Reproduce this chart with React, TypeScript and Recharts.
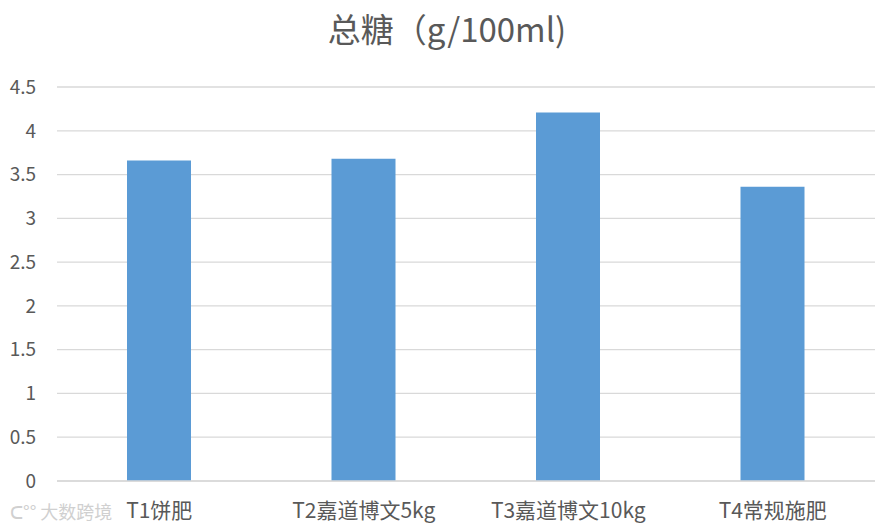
import React from "react";
import { BarChart, Bar, XAxis, YAxis, CartesianGrid } from "recharts";

const categories = ["T1饼肥", "T2嘉道博文5kg", "T3嘉道博文10kg", "T4常规施肥"];
const sugarValues = [3.66, 3.68, 4.21, 3.36];
const yTicks = [0, 0.5, 1, 1.5, 2, 2.5, 3, 3.5, 4, 4.5];

const data = categories.map((name, i) => ({ name, value: sugarValues[i] }));

const FONT = "'Noto Sans CJK SC', 'Noto Sans', sans-serif";
const TEXT = "#595959";

export default function App() {
    return (
        <div style={{ position: "absolute", left: 0, top: 0, width: 890, height: 531, background: "#fff", fontFamily: FONT }}>
            <div
                style={{
                    position: "absolute",
                    left: 0,
                    top: 6,
                    width: 894,
                    textAlign: "center",
                    fontSize: 33,
                    color: TEXT,
                    lineHeight: "44px",
                }}
            >
                总糖（g/100ml)
            </div>
            <BarChart
                width={890}
                height={531}
                data={data}
                margin={{ top: 87, right: 15, bottom: 0, left: 7 }}
            >
                <CartesianGrid vertical={false} stroke="#D9D9D9" strokeWidth={1.3} />
                <XAxis
                    dataKey="name"
                    height={50}
                    tickLine={false}
                    tickSize={0}
                    tickMargin={22}
                    axisLine={{ stroke: "#D9D9D9", strokeWidth: 1.3 }}
                    tick={{ fill: TEXT, fontSize: 21, fontFamily: FONT }}
                    interval={0}
                />
                <YAxis
                    width={50}
                    domain={[0, 4.5]}
                    ticks={yTicks}
                    axisLine={false}
                    tickLine={false}
                    tickSize={0}
                    tickMargin={21}
                    tick={{ fill: TEXT, fontSize: 19, fontFamily: FONT }}
                />
                <Bar dataKey="value" fill="#5B9BD5" barSize={64} isAnimationActive={false} />
            </BarChart>
            <div
                style={{
                    position: "absolute",
                    left: 10,
                    top: 499,
                    fontSize: 18,
                    color: "#D0D0D0",
                    lineHeight: "24px",
                }}
            >
                ᑕ°° 大数跨境
            </div>
        </div>
    );
}
